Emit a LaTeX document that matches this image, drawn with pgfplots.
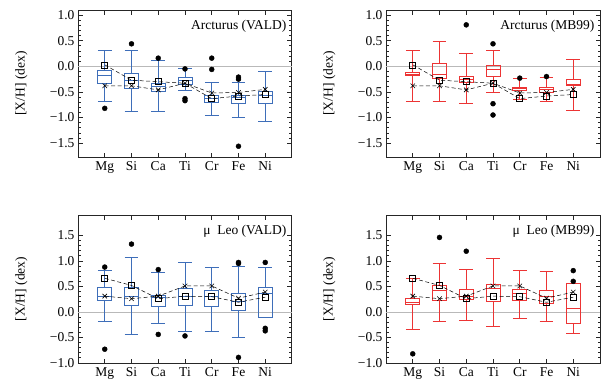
\documentclass[border=0pt]{standalone}
\usepackage{fontspec}
\setmainfont{Liberation Serif}
\usepackage{pgfplots}
\pgfplotsset{compat=1.18}
\usepgfplotslibrary{statistics}
\definecolor{vblue}{RGB}{62,110,185}
\definecolor{mred}{RGB}{236,52,52}
\pgfplotsset{
  panel/.style={
    scale only axis, width=214pt, xmin=0, xmax=8,
    xtick={1,2,3,4,5,6,7}, xticklabels={Mg,Si,Ca,Ti,Cr,Fe,Ni},
    tick align=inside, tick pos=both, ticklabel pos=left,
    minor y tick num=4, major tick length=4.5pt, minor tick length=2.5pt,
    axis line style={line width=1pt, black!85},
    every tick/.style={black!85, line width=0.8pt},
    ylabel={[X/H] (dex)},
    ylabel style={at={(axis description cs:-0.265,0.5)}, anchor=center},
    xticklabel style={yshift=-1pt},
    boxplot/draw direction=y,
    boxplot/box extend=0.52, boxplot/whisker extend=0.52,
    clip=false,
  },
  toppanel/.style={panel, height=147pt, ymin=-1.77, ymax=1.1,
    ytick={-1.5,-1,-0.5,0,0.5,1}, yticklabels={−1.5,−1.0,−0.5,0.0,0.5,1.0}},
  botpanel/.style={panel, height=148pt, ymin=-1.0, ymax=1.9,
    ytick={-1,-0.5,0,0.5,1,1.5}, yticklabels={−1.0,−0.5,0.0,0.5,1.0,1.5}},
  sqline/.style={black, line width=0.5pt, dash pattern=on 4pt off 2.5pt, mark=square, mark size=3pt, mark options={solid, line width=0.6pt}},
  xline/.style={black, line width=0.5pt, dash pattern=on 4pt off 2.5pt, mark=x, mark size=3.2pt, mark options={solid, line width=0.6pt}},
  outl/.style={only marks, mark=*, mark size=2.5pt, black},
}
% #1 colour, #2 position, #3 lower whisker, #4 lower quartile, #5 median, #6 upper quartile, #7 upper whisker
\newcommand{\bx}[7]{\addplot[draw=#1, line width=0.9pt, boxplot prepared={draw position=#2, lower whisker=#3, lower quartile=#4, median=#5, upper quartile=#6, upper whisker=#7}] coordinates {};}
\begin{document}
\begin{tikzpicture}[font=\fontsize{13.5}{16}\selectfont]
\useasboundingbox (0,0) rectangle (601pt,-388pt);
% ---------------- Arcturus (VALD)
\begin{axis}[toppanel, at={(78pt,-10pt)}, anchor=north west]
\addplot[gray!55, line width=0.8pt, forget plot] coordinates {(0,0) (8,0)};
\bx{vblue}{1}{-0.68}{-0.34}{-0.18}{-0.08}{0.31}
\bx{vblue}{2}{-0.88}{-0.43}{-0.28}{-0.13}{0.31}
\bx{vblue}{3}{-0.88}{-0.49}{-0.40}{-0.34}{0.12}
\bx{vblue}{4}{-0.47}{-0.36}{-0.28}{-0.21}{-0.05}
\bx{vblue}{5}{-0.95}{-0.71}{-0.62}{-0.56}{-0.31}
\bx{vblue}{6}{-0.99}{-0.73}{-0.60}{-0.56}{-0.31}
\bx{vblue}{7}{-1.08}{-0.73}{-0.57}{-0.49}{-0.10}
\addplot[sqline] coordinates {(1,0.03) (2,-0.27) (3,-0.30) (4,-0.33) (5,-0.63) (6,-0.58) (7,-0.55)};
\addplot[xline] coordinates {(1,-0.38) (2,-0.38) (3,-0.46) (4,-0.33) (5,-0.52) (6,-0.51) (7,-0.45)};
\addplot[outl] coordinates {(1,-0.82) (2,0.44) (3,0.16) (4,-0.05) (4,-0.63) (4,-0.67) (5,0.16) (5,-0.06) (6,-0.21) (6,-0.25) (6,-1.56)};
\node[anchor=north east, inner sep=0pt] at (rel axis cs:0.975,0.93) {Arcturus (VALD)};
\end{axis}
% ---------------- Arcturus (MB99)
\begin{axis}[toppanel, at={(386pt,-10pt)}, anchor=north west]
\addplot[gray!55, line width=0.8pt, forget plot] coordinates {(0,0) (8,0)};
\bx{mred}{1}{-0.68}{-0.18}{-0.15}{-0.12}{0.31}
\bx{mred}{2}{-0.68}{-0.24}{-0.16}{0.05}{0.49}
\bx{mred}{3}{-0.73}{-0.31}{-0.25}{-0.19}{0.26}
\bx{mred}{4}{-0.50}{-0.19}{-0.06}{0.01}{0.31}
\bx{mred}{5}{-0.65}{-0.47}{-0.44}{-0.41}{-0.23}
\bx{mred}{6}{-0.68}{-0.50}{-0.45}{-0.41}{-0.21}
\bx{mred}{7}{-0.86}{-0.38}{-0.36}{-0.25}{0.13}
\addplot[sqline] coordinates {(1,0.03) (2,-0.27) (3,-0.30) (4,-0.33) (5,-0.63) (6,-0.58) (7,-0.55)};
\addplot[xline] coordinates {(1,-0.38) (2,-0.38) (3,-0.46) (4,-0.33) (5,-0.52) (6,-0.51) (7,-0.45)};
\addplot[outl] coordinates {(3,0.81) (4,0.44) (4,-0.73) (4,-0.95) (5,-0.23) (6,-0.20)};
\node[anchor=north east, inner sep=0pt] at (rel axis cs:0.975,0.93) {Arcturus (MB99)};
\end{axis}
% ---------------- mu Leo (VALD)
\begin{axis}[botpanel, at={(78pt,-215pt)}, anchor=north west]
\addplot[gray!55, line width=0.8pt, forget plot] coordinates {(0,0) (8,0)};
\bx{vblue}{1}{-0.19}{0.23}{0.31}{0.49}{0.81}
\bx{vblue}{2}{-0.45}{0.12}{0.30}{0.49}{1.07}
\bx{vblue}{3}{-0.22}{0.10}{0.28}{0.32}{0.78}
\bx{vblue}{4}{-0.39}{0.13}{0.31}{0.47}{0.98}
\bx{vblue}{5}{-0.38}{0.10}{0.30}{0.42}{0.88}
\bx{vblue}{6}{-0.50}{0.02}{0.21}{0.36}{0.90}
\bx{vblue}{7}{-0.11}{-0.11}{0.36}{0.49}{0.88}
\addplot[sqline] coordinates {(1,0.66) (2,0.52) (3,0.26) (4,0.31) (5,0.30) (6,0.19) (7,0.29)};
\addplot[xline] coordinates {(1,0.31) (2,0.26) (3,0.31) (4,0.51) (5,0.51) (6,0.27) (7,0.39)};
\addplot[outl] coordinates {(1,0.88) (1,-0.73) (2,1.33) (3,0.83) (3,-0.44) (4,-0.47) (6,0.97) (6,0.95) (6,-0.89) (7,0.97) (7,-0.32) (7,-0.37)};
\node[anchor=north east, inner sep=0pt] at (rel axis cs:0.975,0.93) {μ\hspace{0.5em}Leo (VALD)};
\end{axis}
% ---------------- mu Leo (MB99)
\begin{axis}[botpanel, at={(386pt,-215pt)}, anchor=north west]
\addplot[gray!55, line width=0.8pt, forget plot] coordinates {(0,0) (8,0)};
\bx{mred}{1}{-0.34}{0.15}{0.19}{0.26}{0.66}
\bx{mred}{2}{-0.19}{0.23}{0.43}{0.52}{0.95}
\bx{mred}{3}{-0.16}{0.25}{0.31}{0.45}{0.83}
\bx{mred}{4}{-0.29}{0.21}{0.47}{0.54}{1.05}
\bx{mred}{5}{-0.13}{0.23}{0.36}{0.44}{0.81}
\bx{mred}{6}{-0.19}{0.17}{0.30}{0.42}{0.79}
\bx{mred}{7}{-0.43}{-0.23}{0.07}{0.56}{0.56}
\addplot[sqline] coordinates {(1,0.66) (2,0.52) (3,0.26) (4,0.31) (5,0.30) (6,0.19) (7,0.29)};
\addplot[xline] coordinates {(1,0.31) (2,0.26) (3,0.31) (4,0.51) (5,0.51) (6,0.27) (7,0.39)};
\addplot[outl] coordinates {(1,-0.82) (2,1.46) (3,1.19) (7,0.81) (7,0.60)};
\node[anchor=north east, inner sep=0pt] at (rel axis cs:0.975,0.93) {μ\hspace{0.5em}Leo (MB99)};
\end{axis}
\end{tikzpicture}
\end{document}
